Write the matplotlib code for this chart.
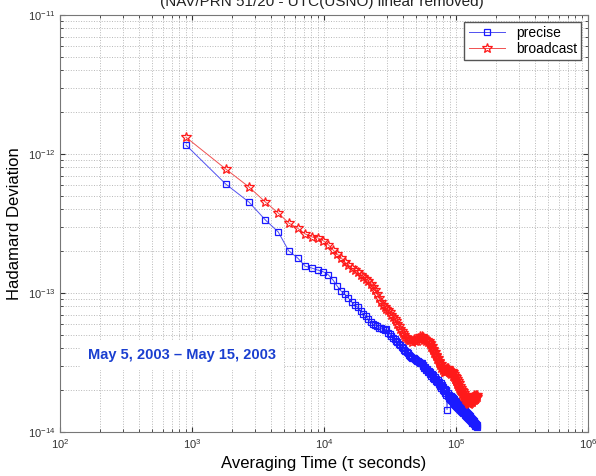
import numpy as np
import matplotlib
matplotlib.use("Agg")
import matplotlib.pyplot as plt

plt.rcParams['font.family'] = ['Liberation Sans', 'DejaVu Sans']

# averaging time: multiples of the 900 s sample interval
n_steps = list(range(1, 161))
sample_s = 900

# Hadamard deviation, units of 1e-14
precise = [
    116, 60.8, 45.1, 33.5, 27.5, 20.1, 17.9, 15.6, 15.1, 14.6,
    14.2, 13.5, 12.4, 11.2, 10.3, 9.8, 9.2, 8.6, 8.2, 7.9,
    7.43, 7.06, 6.83, 6.50, 6.18, 5.98, 5.89, 5.79, 5.60, 5.62,
    5.51, 5.42, 5.51, 5.16, 5.07, 4.91, 4.75, 4.67, 4.51, 4.44,
    4.30, 4.23, 4.09, 4.02, 3.89, 3.83, 3.76, 3.70, 3.58, 3.52,
    3.47, 3.41, 3.38, 3.35, 3.29, 3.24, 3.22, 3.19, 3.16, 3.14,
    3.15, 2.98, 3.05, 2.88, 2.95, 2.78, 2.86, 2.70, 2.76, 2.60,
    2.70, 2.55, 2.62, 2.46, 2.56, 2.40, 2.48, 2.33, 2.42, 2.28,
    2.36, 2.22, 2.30, 2.15, 2.24, 2.08, 2.17, 2.02, 2.10, 1.96,
    2.04, 1.91, 1.99, 1.86, 1.45, 1.82, 1.90, 1.77, 1.85, 1.74,
    1.82, 1.70, 1.78, 1.66, 1.75, 1.63, 1.72, 1.60, 1.68, 1.57,
    1.66, 1.55, 1.63, 1.52, 1.60, 1.50, 1.58, 1.47, 1.55, 1.45,
    1.53, 1.42, 1.50, 1.40, 1.47, 1.37, 1.45, 1.36, 1.43, 1.33,
    1.41, 1.31, 1.39, 1.29, 1.37, 1.28, 1.35, 1.26, 1.33, 1.24,
    1.31, 1.22, 1.29, 1.21, 1.27, 1.19, 1.25, 1.17, 1.23, 1.16,
    1.21, 1.14, 1.19, 1.13, 1.17, 1.11, 1.15, 1.10, 1.13, 1.09,
]
broadcast = [
    132, 78.0, 57.9, 45.1, 37.6, 31.9, 29.3, 26.6, 25.3, 24.9,
    23.7, 22.2, 20.4, 19.1, 17.9, 16.7, 15.9, 15.1, 14.6, 14.2,
    13.5, 13.0, 12.6, 12.2, 11.6, 11.0, 10.5, 9.84, 9.2, 8.61,
    8.2, 7.93, 7.67, 7.55, 7.30, 6.95, 6.72, 6.50, 6.29, 5.98,
    5.79, 5.51, 5.33, 5.16, 4.99, 4.82, 4.75, 4.67, 4.59, 4.59,
    4.62, 4.45, 4.63, 4.52, 4.70, 4.52, 4.76, 4.68, 4.88, 4.74,
    4.93, 4.75, 4.82, 4.60, 4.70, 4.50, 4.62, 4.42, 4.52, 4.30,
    4.35, 4.08, 4.14, 3.88, 3.94, 3.69, 3.75, 3.51, 3.57, 3.35,
    3.39, 3.18, 3.22, 3.03, 3.07, 2.89, 2.95, 2.78, 2.86, 2.70,
    2.80, 2.69, 2.84, 2.73, 2.88, 2.78, 2.87, 2.72, 2.80, 2.64,
    2.74, 2.60, 2.75, 2.64, 2.71, 2.55, 2.63, 2.47, 2.55, 2.39,
    2.47, 2.31, 2.39, 2.23, 2.31, 2.16, 2.24, 2.09, 2.16, 2.02,
    2.09, 1.96, 2.02, 1.89, 1.96, 1.83, 1.90, 1.78, 1.85, 1.74,
    1.82, 1.71, 1.80, 1.68, 1.77, 1.65, 1.74, 1.63, 1.71, 1.60,
    1.71, 1.62, 1.74, 1.65, 1.76, 1.65, 1.78, 1.68, 1.80, 1.71,
    1.81, 1.71, 1.84, 1.74, 1.82, 1.72, 1.84, 1.75, 1.86, 1.80,
]

tau = np.array(n_steps) * sample_s
prec = np.array(precise) * 1e-14
brdc = np.array(broadcast) * 1e-14

fig = plt.figure(figsize=(5.96, 4.76), dpi=100)
ax = fig.add_axes([0.1007, 0.0924, 0.8859, 0.8761])

ax.loglog(tau, prec, color='#5050f0', lw=0.7, marker='s', ms=5,
          mfc='none', mec='#1a1aff', mew=0.9, label='precise')
ax.loglog(tau, brdc, color='#f05050', lw=0.7, marker='*', ms=7,
          mfc='none', mec='#ff1a1a', mew=0.9, label='broadcast')

ax.set_xlim(1e2, 1e6)
ax.set_ylim(1e-14, 1e-11)
ax.grid(True, which='both', color='#b8b8b8', ls=':', lw=0.7)
ax.tick_params(which='both', direction='in', top=True, right=True,
               labelsize=8, colors='#333333')
for s in ax.spines.values():
    s.set_color('#777777')

ax.set_xlabel('Averaging Time (\u03c4 seconds)', fontsize=12, labelpad=4)
ax.set_ylabel('Hadamard Deviation', fontsize=12, labelpad=4)

leg = ax.legend(loc='upper right', fontsize=10, fancybox=False,
                framealpha=1, edgecolor='#555555', handlelength=2.6,
                borderaxespad=0.5, labelspacing=0.15, borderpad=0.3)

ax.text(0.053, 0.185, 'May 5, 2003 \u2013 May 15, 2003', transform=ax.transAxes,
        fontsize=10.5, fontweight='bold', color='#1a3fd0', va='center',
        bbox=dict(facecolor='white', edgecolor='none', pad=6))

fig.text(0.54, 1 - 6 / 476, '(NAV/PRN 51/20 - UTC(USNO) linear removed)',
         ha='center', va='baseline', fontsize=11, color='#222222')

fig.savefig('out.png', dpi=100)
